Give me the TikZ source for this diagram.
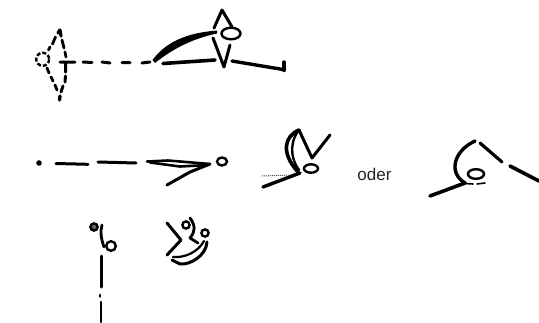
\documentclass[tikz,border=0pt]{standalone}
\usepackage{fontspec}
\setmainfont{Liberation Sans}
\tikzset{
 ink/.style={line width=#1,line cap=round,line join=round,color=black},
 ink/.default=3pt,
 ring/.style={line width=2.4pt,color=black}
}
\begin{document}
\begin{tikzpicture}[x=1pt,y=-1pt]
\useasboundingbox (0,0) rectangle (539,322);
% figure 1, dashed side
\draw[ring,dash pattern=on 4pt off 2pt] (42.7,59.3) ellipse [x radius=6.5,y radius=6.5];
\draw[ink=3.2] (60,30)--(58,33);
\draw[ink=3.2] (60,30)--(61,36);
\draw[ink=2.8] (55.5,37)--(52.5,44) (50,47)--(48.5,50);
\draw[ink=2.8] (62,40)--(64,48) (65,52)--(66,57);
\draw[ink=3] (60,62)--(75,62) (83,62)--(92,62.5) (102,62)--(110,63) (122,62.5)--(130,62.5) (142,63)--(150,62);
\draw[ink=3] (65.5,63)--(65.5,72) (65.5,76)--(65,82) (63,86)--(61,92);
\draw[ink=3.4] (60,96)--(59.5,100);
\draw[ink=2.8] (47,68)--(49,73) (51,77)--(53,81) (55,85)--(57,90);
% figure 1, solid side
\fill[black] (152.5,60) .. controls (165,43) and (185,33) .. (217,30.5) -- (217,33.5) .. controls (190,39) and (170,51) .. (155,63) -- cycle;
\draw[ink=3.6] (163,63.5)--(215,60);
\draw[ink=3] (213,38)--(224,67)--(230,45);
\draw[ink=3] (214,28)--(222,10)--(232,27);
\draw[ring] (231,33.5) ellipse [x radius=9.5,y radius=5.8];
\draw[ink=3.4] (232,61)--(283,69.5);
\draw[ink=3.4] (284,62)--(284,70.5);
% figure 2, dashes and wedge
\fill[black] (39,163) circle [radius=2.8];
\draw[ink=3] (56,163.5)--(88,164.3) (98,162)--(136,163);
\draw[ink=2.6] (147,161.5) -- (168,160.5) -- (210,164);
\draw[ink=2.6] (150,162.5) -- (180,166.5) -- (208,165);
\draw[ink=3] (167,185)--(190,172)--(210,164);
\draw[ring] (222,161.5) ellipse [x radius=5,y radius=4];
% figure 3
\draw[ink=3.6] (299,130) .. controls (285,136) and (280,152) .. (298,172);
\draw[ink=2.4] (299,130) .. controls (292,138) and (288,155) .. (299,170);
\draw[ink=3] (299,130)--(312,158)--(330,135);
\draw[ring] (311,168.5) ellipse [x radius=7,y radius=4.2];
\draw[ink=3.4] (263,187)--(300,173);
\draw[line width=1pt,densely dotted,black!70] (262,176)--(290,175);
% oder
\node[inner sep=0pt,text=black!85,font=\fontsize{17}{18}\selectfont] (oder) at (374.5,174.5) {oder};
% figure 4
\draw[ink=3.4] (475,141) .. controls (455,150) and (447,172) .. (465,183);
\draw[ink=3.2] (480,143)--(502,162);
\draw[ink=3.6] (510,166)--(539,181);
\draw[ring] (476,174) ellipse [x radius=8,y radius=4.8];
\draw[ink=3.6] (430,196)--(465,183);
\draw[ink=1.6] (465,183.5)--(473,184) (477,184)--(485,183);
% figure 5, left
\draw[ring,fill=black!60] (94,227) circle [radius=3.6];
\draw[ink=2.8] (102,225) .. controls (100,232) and (101,238) .. (104,247);
\draw[ring] (111,246) circle [radius=4.8];
\draw[ink=3] (101,256)--(101,287);
\draw[ink=2.8] (100,295)--(100,296.5) (101,302)--(101,322);
% figure 5, right
\draw[ink=3] (167,223)--(181,240)--(167,255);
\draw[ring] (186,225) circle [radius=3.6];
\draw[ink=2.8] (190,218) .. controls (196,226) and (195,232) .. (190,238) -- (198,243);
\draw[ring] (205,233) circle [radius=3.6];
\draw[ink=3] (207,242) .. controls (206,256) and (190,265) .. (180,264) -- (172,260);
\draw[ink=2.2] (173,257) .. controls (185,258) and (198,252) .. (204,241);
\end{tikzpicture}
\end{document}
